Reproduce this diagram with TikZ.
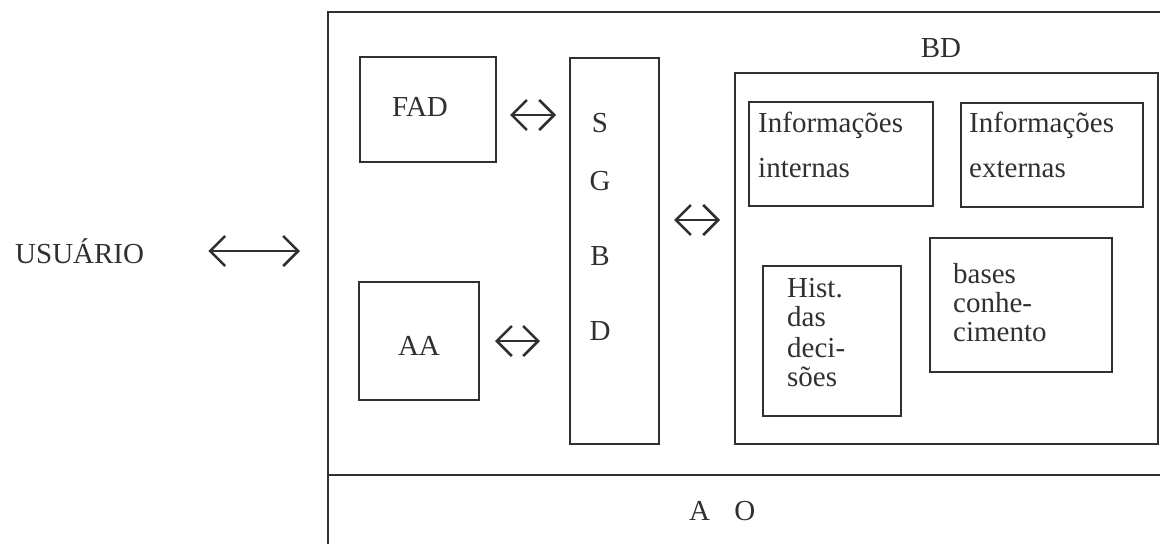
\documentclass[tikz,border=0pt]{standalone}
\usepackage{fontspec}
\setmainfont{Liberation Serif}
\usetikzlibrary{arrows.meta}
\definecolor{ink}{HTML}{303030}
\begin{document}
\begin{tikzpicture}[x=1pt,y=-1pt,
  box/.style={draw=ink, line width=2pt, inner sep=0pt, anchor=north west},
  txt/.style={text=ink, font=\fontsize{29}{30}\selectfont, inner sep=0pt, anchor=base west},
  ctxt/.style={txt, anchor=base},
  biarrow/.style={draw=ink, line width=2.6pt,
    {Straight Barb[length=15pt,width=30pt]}-{Straight Barb[length=15pt,width=30pt]}},
  frame/.style={draw=ink, line width=2pt}]
\useasboundingbox (0,0) rectangle (1160,544);

% outer frame (cropped at right and bottom)
\draw[frame] (1160,12) -- (328,12) -- (328,544);
\draw[frame] (328,475) -- (1160,475);
\node[txt] (ao) at (689,520) {A\hspace{17pt} O};

% boxes
\node[box, minimum width=136pt, minimum height=105pt] (fad) at (359,56) {};
\node[box, minimum width=120pt, minimum height=118pt] (aa) at (358,281) {};
\node[box, minimum width=89pt, minimum height=386pt] (sgbd) at (569,57) {};
\node[box, minimum width=423pt, minimum height=371pt] (bd) at (734,72) {};
\node[box, minimum width=184pt, minimum height=104pt] (infint) at (748,101) {};
\node[box, minimum width=182pt, minimum height=104pt] (infext) at (960,102) {};
\node[box, minimum width=138pt, minimum height=150pt] (hist) at (762,265) {};
\node[box, minimum width=182pt, minimum height=134pt] (bases) at (929,237) {};

% texts
\node[txt] (usuario) at (15,263) {USUÁRIO};
\node[ctxt] (fadt) at (420,116) {FAD};
\node[ctxt] (aat) at (419,355) {AA};
\node[ctxt] (s) at (600,132) {S};
\node[ctxt] (g) at (600,190) {G};
\node[ctxt] (b) at (600,265) {B};
\node[ctxt] (d) at (600,340) {D};
\node[ctxt] (bdt) at (941,57) {BD};
\node[txt] (ii1) at (758,132) {Informações};
\node[txt] (ii2) at (758,177) {internas};
\node[txt] (ie1) at (969,132) {Informações};
\node[txt] (ie2) at (969,177) {externas};
\node[txt] (h1) at (787,297) {Hist.};
\node[txt] (h2) at (787,326) {das};
\node[txt] (h3) at (787,357) {deci-};
\node[txt] (h4) at (787,386) {sões};
\node[txt] (b1) at (953,283) {bases};
\node[txt] (b2) at (953,312) {conhe-};
\node[txt] (b3) at (953,341) {cimento};

% connectors
\coordinate (userR) at (328,251);
\coordinate (yfad) at (0,115);
\coordinate (ybd) at (0,220);
\draw[biarrow, shorten <=64pt, shorten >=28pt] (usuario.east |- userR) -- (userR);
\draw[biarrow, shorten <=13pt, shorten >=13pt] (fad.east |- yfad) -- (sgbd.west |- yfad);
\draw[biarrow, shorten <=15pt, shorten >=29pt] (aa.east) -- (aa.east -| sgbd.west);
\draw[biarrow, shorten <=14pt, shorten >=14pt] (sgbd.east |- ybd) -- (bd.west |- ybd);
\end{tikzpicture}
\end{document}
